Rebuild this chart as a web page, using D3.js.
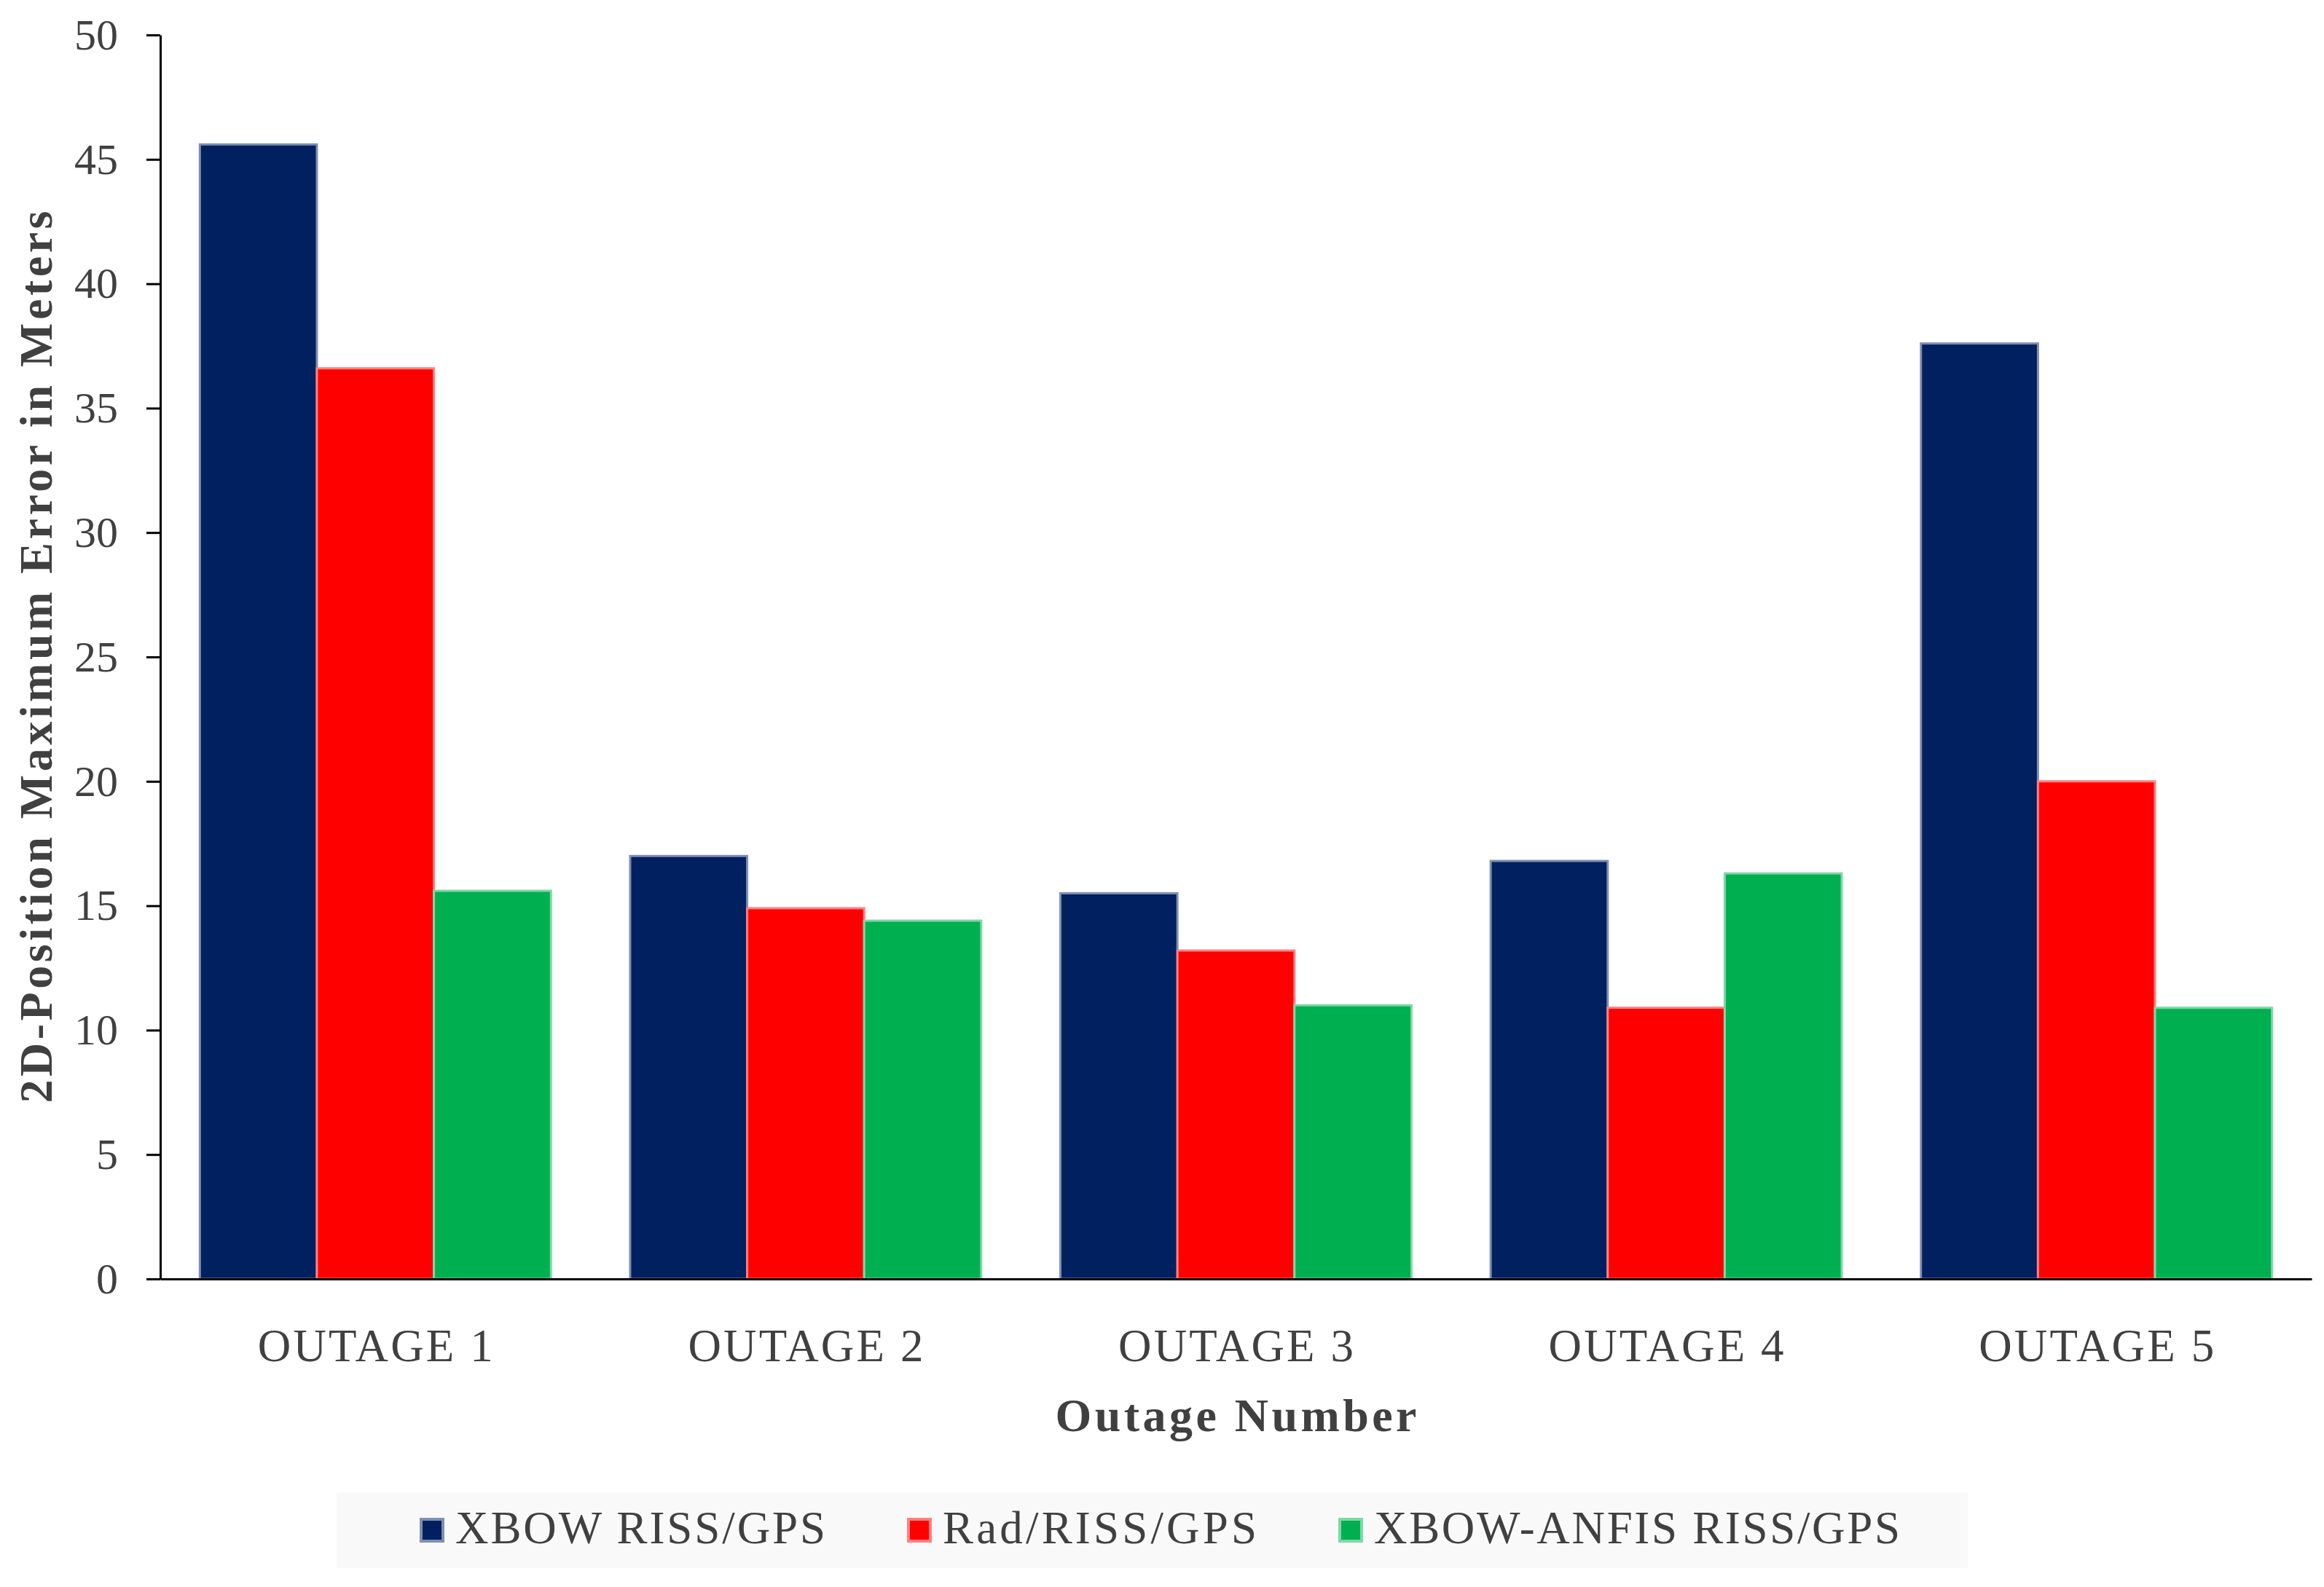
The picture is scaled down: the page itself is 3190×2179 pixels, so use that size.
<!DOCTYPE html>
<html>
<head>
<meta charset="utf-8">
<script src="https://cdn.jsdelivr.net/npm/d3@7"></script>
<style>
body { margin: 0; background: #fff; }
text { font-family: "Liberation Serif", "DejaVu Serif", serif; fill: #404040; }
</style>
</head>
<body>
<div id="chart"></div>
<script>
// data
let outages = ["OUTAGE 1", "OUTAGE 2", "OUTAGE 3", "OUTAGE 4", "OUTAGE 5"];
let seriesNames = ["XBOW RISS/GPS", "Rad/RISS/GPS", "XBOW-ANFIS RISS/GPS"];
let xbow = [45.6, 17.0, 15.5, 16.8, 37.6];
let rad = [36.6, 14.9, 13.2, 10.9, 20.0];
let anfis = [15.6, 14.4, 11.0, 16.3, 10.9];
let yTicks = [0, 5, 10, 15, 20, 25, 30, 35, 40, 45, 50];

let fills = ["#002060", "#ff0000", "#00b050"],
    edges = ["#7f8fb0", "#ff8080", "#7fd7a7"];

let margin = {top: 48, right: 17, bottom: 423, left: 220},
    fullW = 3190, fullH = 2179,
    width = fullW - margin.left - margin.right,
    height = fullH - margin.top - margin.bottom;

let svg = d3.select("#chart")
    .append("svg")
    .attr("width", fullW)
    .attr("height", fullH);

let canvas = svg.append("g")
    .attr("transform", "translate(" + margin.left + "," + margin.top + ")");

let x0 = d3.scaleBand()
    .domain(outages)
    .range([0, width])
    .paddingInner(0.184)
    .paddingOuter(0.092);

let x1 = d3.scaleBand()
    .domain(seriesNames)
    .range([0, x0.bandwidth()])
    .padding(0);

let y = d3.scaleLinear()
    .domain([0, 50])
    .range([height, 0]);

let rows = outages.map(function(o, i) {
    return {outage: o, values: [
        {name: seriesNames[0], v: xbow[i]},
        {name: seriesNames[1], v: rad[i]},
        {name: seriesNames[2], v: anfis[i]}
    ]};
});

// bars
let group = canvas.selectAll(".group")
    .data(rows)
    .enter().append("g")
    .attr("class", "group")
    .attr("transform", function(d) { return "translate(" + x0(d.outage) + ",0)"; });

group.selectAll("rect")
    .data(function(d) { return d.values; })
    .enter().append("rect")
    .attr("x", function(d) { return x1(d.name); })
    .attr("y", function(d) { return y(d.v); })
    .attr("width", x1.bandwidth())
    .attr("height", function(d) { return height - y(d.v); })
    .attr("fill", function(d, i) { return fills[i]; })
    .attr("stroke", function(d, i) { return edges[i]; })
    .attr("stroke-width", 3);

// axes
let yAxis = d3.axisLeft(y)
    .tickValues(yTicks)
    .tickSize(19)
    .tickSizeOuter(0)
    .tickPadding(39);

let gY = canvas.append("g")
    .attr("class", "y axis")
    .call(yAxis);

let xAxis = d3.axisBottom(x0)
    .tickSize(0)
    .tickSizeOuter(0)
    .tickPadding(68);

let gX = canvas.append("g")
    .attr("class", "x axis")
    .attr("transform", "translate(0," + height + ")")
    .call(xAxis);

canvas.selectAll(".axis path, .axis line")
    .attr("stroke", "#000")
    .attr("stroke-width", 3);

gY.selectAll("text")
    .style("font-size", "60px")
    .attr("fill", "#404040");

gX.selectAll("text")
    .style("font-size", "63px")
    .attr("fill", "#404040")
    .attr("textLength", 323)
    .attr("lengthAdjust", "spacing");

// axis titles
canvas.append("text")
    .attr("x", width / 2)
    .attr("y", 1917)
    .attr("text-anchor", "middle")
    .attr("textLength", 496)
    .attr("lengthAdjust", "spacing")
    .style("font-size", "64px")
    .style("font-weight", "bold")
    .text("Outage Number");

canvas.append("text")
    .attr("transform", "rotate(-90)")
    .attr("x", -height / 2)
    .attr("y", -149)
    .attr("text-anchor", "middle")
    .attr("textLength", 1225)
    .attr("lengthAdjust", "spacing")
    .style("font-size", "64px")
    .style("font-weight", "bold")
    .text("2D-Position Maximum Error in Meters");

// legend
let legend = svg.append("g").attr("class", "legend");

legend.append("rect")
    .attr("x", 462)
    .attr("y", 2049)
    .attr("width", 2239)
    .attr("height", 104)
    .attr("fill", "#f9f9f9");

let legendWidths = [508, 431, 722],
    lx = 578;

seriesNames.forEach(function(name, i) {
    legend.append("rect")
        .attr("x", lx)
        .attr("y", 2086)
        .attr("width", 30)
        .attr("height", 30)
        .attr("fill", fills[i])
        .attr("stroke", edges[i])
        .attr("stroke-width", 4);
    legend.append("text")
        .attr("x", lx + 47)
        .attr("y", 2119)
        .attr("textLength", legendWidths[i])
        .attr("lengthAdjust", "spacing")
        .style("font-size", "63px")
        .text(name);
    lx += 47 + legendWidths[i] + 114;
});
</script>
</body>
</html>
